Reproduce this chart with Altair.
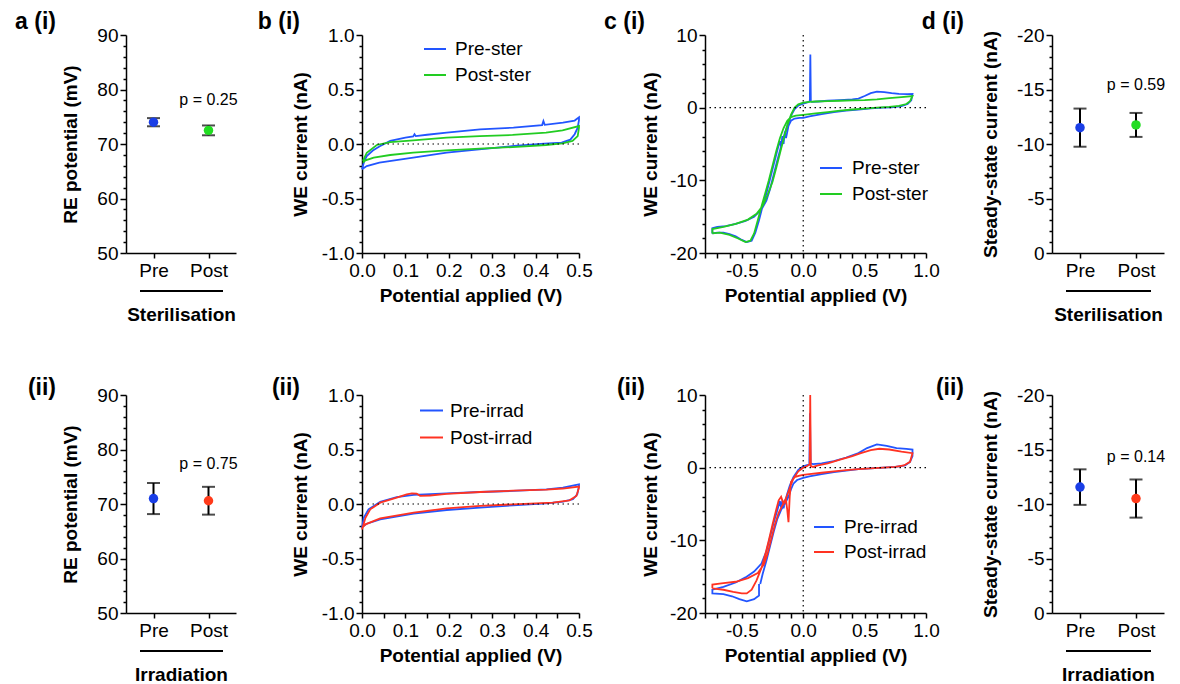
import altair as alt
import pandas as pd

FONT = "Liberation Sans"
BLUE_DOT = "#1a3ee6"
GREEN_DOT = "#22dd22"
RED_DOT = "#ff3a1a"
BLUE_LINE = "#2255ff"
GREEN_LINE = "#22cc22"
RED_LINE = "#ff3322"

CATS = ["Pre", "Post"]
A1_MEAN = [74.0, 72.5]
A1_SD = [0.75, 0.9]
A2_MEAN = [71.0, 70.6]
A2_SD = [2.85, 2.55]
D1_MEAN = [-11.5, -11.75]
D1_SD = [1.75, 1.1]
D2_MEAN = [-11.55, -10.5]
D2_SD = [1.63, 1.75]
P_TEXT = ["p = 0.25", "p = 0.75", "p = 0.59", "p = 0.14"]
P_Y = [78.0, 77.4, -15.4, -14.3]

# b(i) CV 0-0.5 V
B1_PRE_V = [0.000, 0.005, 0.011, 0.025, 0.041, 0.065, 0.100, 0.118, 0.121, 0.124, 0.150, 0.195, 0.272, 0.349, 0.415, 0.418, 0.421, 0.463, 0.490, 0.500,
            0.500, 0.497, 0.490, 0.480, 0.460, 0.420, 0.350, 0.270, 0.195, 0.118, 0.040, 0.011, 0.000]
B1_PRE_I = [-0.232, -0.160, -0.110, -0.060, -0.020, 0.028, 0.058, 0.070, 0.090, 0.072, 0.085, 0.104, 0.135, 0.150, 0.174, 0.210, 0.176, 0.196, 0.215, 0.245,
            0.220, 0.150, 0.090, 0.040, 0.012, 0.003, -0.018, -0.049, -0.080, -0.125, -0.171, -0.202, -0.232]
B1_POST_V = [0.002, 0.011, 0.034, 0.065, 0.118, 0.195, 0.271, 0.347, 0.424, 0.462, 0.500,
             0.500, 0.497, 0.485, 0.462, 0.424, 0.347, 0.271, 0.195, 0.118, 0.065, 0.027, 0.008, 0.002]
B1_POST_I = [-0.156, -0.080, -0.009, 0.018, 0.034, 0.058, 0.073, 0.083, 0.104, 0.125, 0.165,
             0.150, 0.073, 0.028, 0.006, -0.009, -0.028, -0.043, -0.058, -0.080, -0.101, -0.125, -0.150, -0.171]

# b(ii)
B2_PRE_V = [0.000, 0.004, 0.015, 0.042, 0.080, 0.119, 0.195, 0.272, 0.348, 0.425, 0.463, 0.500,
            0.500, 0.496, 0.486, 0.463, 0.425, 0.348, 0.272, 0.195, 0.119, 0.042, 0.011, 0.000]
B2_PRE_I = [-0.218, -0.126, -0.049, 0.021, 0.064, 0.083, 0.098, 0.110, 0.120, 0.135, 0.150, 0.181,
            0.166, 0.089, 0.043, 0.021, 0.006, -0.012, -0.034, -0.055, -0.089, -0.141, -0.181, -0.212]
B2_POST_V = [0.000, 0.008, 0.019, 0.042, 0.080, 0.103, 0.115, 0.126, 0.134, 0.157, 0.195, 0.272, 0.348, 0.425, 0.463, 0.500,
             0.500, 0.494, 0.478, 0.440, 0.348, 0.272, 0.195, 0.119, 0.042, 0.008, 0.000]
B2_POST_I = [-0.233, -0.126, -0.049, 0.012, 0.058, 0.089, 0.097, 0.095, 0.075, 0.078, 0.092, 0.110, 0.122, 0.132, 0.142, 0.160,
             0.150, 0.074, 0.034, 0.012, -0.003, -0.018, -0.040, -0.080, -0.132, -0.187, -0.218]

# c(i) CV -0.74..0.89 V
C1_PRE_V = [-0.74, -0.70, -0.65, -0.60, -0.55, -0.50, -0.46, -0.42, -0.39, -0.36, -0.33, -0.30, -0.27, -0.24, -0.21, -0.19, -0.18, -0.17, -0.16, -0.15,
            -0.14, -0.12, -0.10, -0.07, -0.03, 0.00, 0.05, 0.15, 0.25, 0.35, 0.45, 0.55, 0.65, 0.72, 0.80, 0.85, 0.88, 0.89,
            0.85, 0.78, 0.72, 0.66, 0.60, 0.55, 0.50, 0.45, 0.40, 0.30, 0.20, 0.12, 0.07, 0.062, 0.058, 0.054, 0.04, 0.00, -0.04, -0.07,
            -0.09, -0.12, -0.15, -0.18, -0.21, -0.24, -0.27, -0.30, -0.34, -0.40, -0.47, -0.55, -0.63, -0.70, -0.74, -0.74]
C1_PRE_I = [-17.3, -17.2, -17.2, -17.4, -17.7, -18.2, -18.5, -18.3, -17.2, -15.5, -13.5, -11.8, -9.8, -7.8, -5.8, -4.6, -5.4, -3.9, -5.0, -3.3,
            -4.2, -2.5, -1.8, -1.5, -1.4, -1.4, -1.2, -0.9, -0.6, -0.4, -0.25, -0.1, 0.0, 0.05, 0.2, 0.5, 1.0, 1.9,
            1.85, 1.9, 2.0, 2.15, 2.2, 2.0, 1.6, 1.25, 1.15, 1.05, 0.95, 0.85, 0.8, 0.9, 7.3, 0.9, 0.75, 0.55, 0.3, -0.2,
            -0.8, -2.0, -3.5, -5.3, -7.2, -9.2, -11.2, -12.8, -14.0, -15.0, -15.6, -16.0, -16.3, -16.4, -16.6, -17.3]
C1_POST_V = [-0.74, -0.68, -0.60, -0.53, -0.47, -0.43, -0.40, -0.37, -0.34, -0.31, -0.28, -0.25, -0.22, -0.19, -0.16, -0.13, -0.10, -0.06, 0.00, 0.10,
             0.20, 0.30, 0.40, 0.50, 0.60, 0.70, 0.78, 0.84, 0.87, 0.89,
             0.80, 0.70, 0.60, 0.50, 0.40, 0.30, 0.20, 0.10, 0.05, 0.00, -0.04, -0.07, -0.10, -0.13, -0.16, -0.19, -0.22, -0.25, -0.29, -0.33,
             -0.38, -0.45, -0.55, -0.65, -0.74, -0.74]
C1_POST_I = [-17.3, -17.2, -17.5, -18.0, -18.5, -18.3, -17.3, -15.5, -13.6, -11.8, -10.0, -8.0, -6.0, -4.2, -2.8, -1.8, -1.3, -1.1, -1.0, -0.8,
             -0.6, -0.4, -0.25, -0.12, 0.0, 0.1, 0.25, 0.5, 0.9, 1.6,
             1.45, 1.3, 1.15, 1.05, 1.0, 0.95, 0.9, 0.85, 0.8, 0.7, 0.45, 0.0, -1.0, -2.5, -4.3, -6.3, -8.3, -10.2, -12.0, -13.5,
             -14.6, -15.4, -16.0, -16.4, -16.7, -17.3]

# c(ii)
C2_PRE_V = [-0.36, -0.36, -0.40, -0.46, -0.52, -0.58, -0.65, -0.74, -0.74, -0.65, -0.55, -0.47, -0.40, -0.34, -0.30, -0.27, -0.24, -0.21, -0.19, -0.18,
            -0.17, -0.16, -0.15, -0.13, -0.11, -0.08, -0.04, 0.00, 0.03, 0.05, 0.055, 0.06, 0.08, 0.15, 0.25, 0.35, 0.45, 0.52, 0.60, 0.68,
            0.76, 0.84, 0.89,
            0.89, 0.87, 0.83, 0.75, 0.65, 0.55, 0.45, 0.35, 0.25, 0.15, 0.05, 0.00, -0.05, -0.08, -0.10, -0.12, -0.15, -0.18, -0.21, -0.24,
            -0.27, -0.30, -0.33, -0.35]
C2_PRE_I = [-16.0, -17.6, -18.1, -18.4, -18.1, -17.7, -17.4, -17.3, -16.8, -16.4, -15.8, -15.1, -14.3, -13.2, -11.5, -9.5, -7.5, -5.8, -4.6, -5.5,
            -4.5, -5.6, -4.8, -3.6, -2.5, -1.3, -0.3, 0.2, 0.35, 0.4, 7.5, 0.6, 0.5, 0.6, 0.9, 1.4, 2.0, 2.7, 3.2, 3.0,
            2.7, 2.6, 2.5,
            1.6, 0.8, 0.3, 0.1, 0.0, -0.1, -0.2, -0.4, -0.6, -0.9, -1.2, -1.4, -1.7, -2.2, -3.0, -4.0, -5.0, -5.8, -7.0, -8.8,
            -10.8, -12.8, -14.6, -16.0]
C2_POST_V = [-0.74, -0.65, -0.57, -0.50, -0.46, -0.42, -0.38, -0.34, -0.31, -0.28, -0.25, -0.22, -0.20, -0.18, -0.16, -0.14, -0.13, -0.12, -0.11, -0.10,
             -0.07, -0.03, 0.00, 0.05, 0.15, 0.25, 0.35, 0.45, 0.55, 0.65, 0.75, 0.82, 0.87, 0.89,
             0.80, 0.70, 0.62, 0.55, 0.47, 0.40, 0.30, 0.20, 0.12, 0.08, 0.062, 0.057, 0.053, 0.03, 0.00, -0.04, -0.08, -0.11, -0.14, -0.17,
             -0.20, -0.23, -0.26, -0.29, -0.32, -0.37, -0.45, -0.55, -0.65, -0.74, -0.74]
C2_POST_I = [-16.6, -16.8, -17.1, -17.3, -17.3, -16.8, -15.5, -13.8, -12.0, -10.0, -7.8, -5.8, -4.5, -4.0, -5.0, -4.5, -5.8, -7.5, -4.0, -2.0,
             -1.3, -1.1, -1.0, -0.9, -0.7, -0.5, -0.35, -0.2, -0.1, 0.0, 0.1, 0.3, 0.8, 2.0,
             2.2, 2.5, 2.6, 2.4, 2.0, 1.6, 1.1, 0.6, 0.3, 0.1, 0.2, 10.0, 0.5, 0.2, 0.0, -0.5, -1.5, -2.8, -4.2, -5.2,
             -6.2, -7.8, -9.8, -11.8, -13.3, -14.5, -15.2, -15.7, -15.9, -16.1, -16.6]

# axis tick positions
A_YTICKS = list(range(50, 91, 2))
D_YTICKS = list(range(-20, 1, 1))
B_YTICKS = [round(-1.0 + 0.1 * k, 1) for k in range(21)]
B_XTICKS = [round(0.05 * k, 2) for k in range(11)]
C_YTICKS = list(range(-20, 11, 2))
C_XTICKS = [round(-0.8 + 0.1 * k, 1) for k in range(19)]

H = 218
ONE = alt.Data(values=[{"t": 1}])


def lab_expr(test, fmt):
    return (f"({test}) ? ((datum.value < -1e-9 ? '-' : '') + format(abs(datum.value), '{fmt}')) : ''")


def panel_label(text, dx, dy):
    return alt.Chart(alt.Data(values=[{"t": text}])).mark_text(
        align="right", baseline="middle", fontSize=23, fontWeight="bold", font=FONT, color="black"
    ).encode(x=alt.value(dx), y=alt.value(dy), text="t:N")


def dot_panel(label, dy, means, sds, colors, ptext, py, ydom, yticks, ytest, ytitle, xtitle, reverse, ytitle_pad, w, label_dx):
    df = pd.DataFrame({
        "cond": CATS,
        "mean": means,
        "lo": [m - s for m, s in zip(means, sds)],
        "hi": [m + s for m, s in zip(means, sds)],
        "col": colors,
    })
    xenc = alt.X("cond:N", sort=CATS,
                 scale=alt.Scale(type="point", domain=CATS, padding=0.5),
                 axis=alt.Axis(title=xtitle, labelAngle=0, tickSize=5, labelPadding=3, titlePadding=25))
    yaxis = alt.Axis(values=yticks, title=ytitle, labelOverlap=False, labelPadding=2,
                     titlePadding=ytitle_pad,
                     labelExpr=lab_expr(ytest, "d"),
                     tickSize={"condition": {"test": ytest, "value": 6}, "value": 3})
    yscale = alt.Scale(domain=ydom, reverse=reverse, nice=False, zero=False)
    base = alt.Chart(df)
    rule = base.mark_rule(color="black", strokeWidth=2).encode(
        x=xenc, y=alt.Y("lo:Q", scale=yscale, axis=yaxis), y2="hi:Q")
    cap_lo = base.mark_tick(color="black", thickness=2, size=13).encode(
        x=xenc, y=alt.Y("lo:Q", scale=yscale, axis=yaxis))
    cap_hi = base.mark_tick(color="black", thickness=2, size=13).encode(
        x=xenc, y=alt.Y("hi:Q", scale=yscale, axis=yaxis))
    pts = base.mark_circle(size=90, opacity=1).encode(
        x=xenc, y=alt.Y("mean:Q", scale=yscale, axis=yaxis),
        color=alt.Color("col:N", scale=None))
    ptxt = alt.Chart(pd.DataFrame({"cond": ["Post"], "py": [py], "pt": [ptext]})).mark_text(
        fontSize=16, font=FONT, color="black", baseline="middle").encode(
        x=xenc, y=alt.Y("py:Q", scale=yscale, axis=yaxis), text="pt:N")
    uline = alt.Chart(ONE).mark_rule(color="black", strokeWidth=2).encode(
        x=alt.value(14), x2=alt.value(w - 13), y=alt.value(H + 38))
    return alt.layer(rule, cap_lo, cap_hi, pts, ptxt, uline, panel_label(label, label_dx, dy)).properties(width=w, height=H)


def cv_panel(label, dy, label_dx, names, colors, Vs, Is, xdom, xticks, xtest, ydom, yticks, ytest, yfmt,
             w, legend_x, legend_y, vzero, ytitle_pad, sym, lab_off):
    rows = []
    for name, V, I in zip(names, Vs, Is):
        for k, (v, i) in enumerate(zip(V, I)):
            rows.append({"s": name, "V": v, "I": i, "k": k})
    df = pd.DataFrame(rows)
    xenc = alt.X("V:Q", scale=alt.Scale(domain=xdom, nice=False, zero=False),
                 axis=alt.Axis(values=xticks, title="Potential applied (V)", labelOverlap=False, labelFlush=False,
                               labelExpr=lab_expr(xtest, ".1f"),
                               tickSize=5, labelPadding=3, titlePadding=6))
    yenc = alt.Y("I:Q", scale=alt.Scale(domain=ydom, nice=False, zero=False),
                 axis=alt.Axis(values=yticks, title="WE current (nA)", labelOverlap=False, labelPadding=2,
                               titlePadding=ytitle_pad,
                               labelExpr=lab_expr(ytest, yfmt),
                               tickSize={"condition": {"test": ytest, "value": 6}, "value": 3}))
    line = alt.Chart(df).mark_line(strokeWidth=1.8).encode(
        x=xenc, y=yenc,
        color=alt.Color("s:N", sort=names, scale=alt.Scale(domain=names, range=colors),
                        legend=alt.Legend(orient="none", legendX=legend_x, legendY=legend_y, title=None,
                                          symbolType="stroke", symbolSize=sym, symbolStrokeWidth=2,
                                          labelFontSize=19, labelFont=FONT, labelColor="black",
                                          rowPadding=4, labelOffset=lab_off, padding=0)),
        order=alt.Order("k:Q"),
        detail="s:N")
    layers = [line]
    hz = alt.Chart(pd.DataFrame({"I": [0.0]})).mark_rule(
        color="black", strokeWidth=1.2, strokeDash=[1.5, 3.5]).encode(y=yenc)
    layers.append(hz)
    if vzero:
        vz = alt.Chart(pd.DataFrame({"V": [0.0]})).mark_rule(
            color="black", strokeWidth=1.2, strokeDash=[1.5, 3.5]).encode(x=xenc)
        layers.append(vz)
    layers.append(panel_label(label, label_dx, dy))
    return alt.layer(*layers).properties(width=w, height=H)


Y05 = "abs(datum.value*2 - round(datum.value*2)) < 0.001"
X01 = "abs(datum.value*10 - round(datum.value*10)) < 0.001"
C10 = "abs(datum.value/10 - round(datum.value/10)) < 0.001"
R1, R2 = -13, -7

a1 = dot_panel("a (i)", R1, A1_MEAN, A1_SD, [BLUE_DOT, GREEN_DOT], P_TEXT[0], P_Y[0], [50, 90], A_YTICKS,
               "datum.value % 10 === 0", "RE potential (mV)", "Sterilisation", False, 16, 110, -70)
a2 = dot_panel("(ii)", R2, A2_MEAN, A2_SD, [BLUE_DOT, RED_DOT], P_TEXT[1], P_Y[1], [50, 90], A_YTICKS,
               "datum.value % 10 === 0", "RE potential (mV)", "Irradiation", False, 16, 110, -70)
d1 = dot_panel("d (i)", R1, D1_MEAN, D1_SD, [BLUE_DOT, GREEN_DOT], P_TEXT[2], P_Y[2], [-20, 0], D_YTICKS,
               "datum.value % 5 === 0", "Steady-state current (nA)", "Sterilisation", True, 16, 112, -88)
d2 = dot_panel("(ii)", R2, D2_MEAN, D2_SD, [BLUE_DOT, RED_DOT], P_TEXT[3], P_Y[3], [-20, 0], D_YTICKS,
               "datum.value % 5 === 0", "Steady-state current (nA)", "Irradiation", True, 16, 112, -88)

b1 = cv_panel("b (i)", R1, -62, ["Pre-ster", "Post-ster"], [BLUE_LINE, GREEN_LINE], [B1_PRE_V, B1_POST_V], [B1_PRE_I, B1_POST_I],
              [0, 0.5], B_XTICKS, X01, [-1, 1], B_YTICKS, Y05, ".1f", 217, 61, 2, False, 11, 484, 8)
b2 = cv_panel("(ii)", R2, -62, ["Pre-irrad", "Post-irrad"], [BLUE_LINE, RED_LINE], [B2_PRE_V, B2_POST_V], [B2_PRE_I, B2_POST_I],
              [0, 0.5], B_XTICKS, X01, [-1, 1], B_YTICKS, Y05, ".1f", 217, 57, 3, False, 11, 529, 6)
c1 = cv_panel("c (i)", R1, -60, ["Pre-ster", "Post-ster"], [BLUE_LINE, GREEN_LINE], [C1_PRE_V, C1_POST_V], [C1_PRE_I, C1_POST_I],
              [-0.8, 1.0], C_XTICKS, Y05, [-20, 10], C_YTICKS, C10, "d", 221, 114, 121, True, 9, 484, 9)
c2 = cv_panel("(ii)", R2, -60, ["Pre-irrad", "Post-irrad"], [BLUE_LINE, RED_LINE], [C2_PRE_V, C2_POST_V], [C2_PRE_I, C2_POST_I],
              [-0.8, 1.0], C_XTICKS, Y05, [-20, 10], C_YTICKS, C10, "d", 221, 108, 121, True, 9, 400, 9)

chart = alt.concat(a1, b1, c1, d1, a2, b2, c2, d2, columns=4,
                   spacing={"row": 142, "column": 126}, bounds="flush", align="each"
                   ).resolve_scale(color="independent").properties(
    padding={"left": 7, "top": 3, "right": 0, "bottom": 0}
).configure_axis(
    domainColor="black", domainWidth=1.5, tickColor="black", tickWidth=1.5,
    labelColor="black", titleColor="black", labelFont=FONT, titleFont=FONT,
    labelFontSize=19, titleFontSize=19, titleFontWeight="bold", grid=False
).configure_view(stroke=None).configure_text(font=FONT)

chart.save("out.html", embed_options={"renderer": "svg", "actions": False})
